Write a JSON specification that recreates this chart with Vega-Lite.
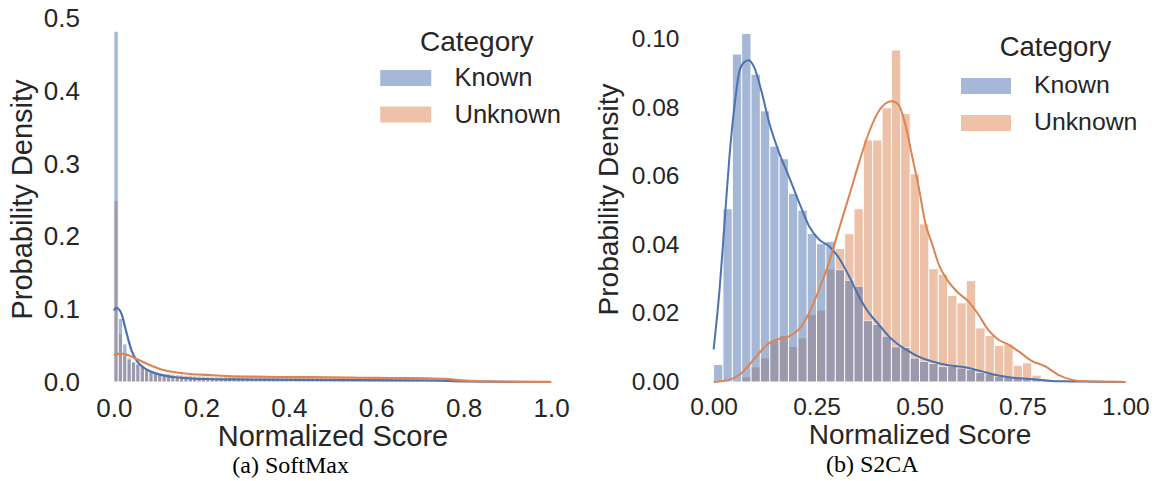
{
"$schema": "https://vega.github.io/schema/vega-lite/v6.json",
"background": "white",
"padding": {"left": 8, "top": 5, "right": 4, "bottom": 0},
"config": {
  "view": {"stroke": null},
  "font": "Liberation Sans",
  "axis": {"domain": false, "ticks": false, "tickSize": 0, "grid": false, "labelColor": "#262626", "titleColor": "#262626", "labelFont": "Liberation Sans", "titleFont": "Liberation Sans", "titleFontWeight": "normal"},
  "legend": {"titleFont": "Liberation Sans", "labelFont": "Liberation Sans", "titleFontWeight": "normal", "titleColor": "#262626", "labelColor": "#262626", "symbolOpacity": 0.5, "symbolStrokeWidth": 0, "titleAnchor": "middle"}
},
"datasets": {
  "leftBars": [
    {"category":"Unknown","x0":0.00,"x1":0.01,"p":0.25},
    {"category":"Unknown","x0":0.01,"x1":0.02,"p":0.0668},
    {"category":"Unknown","x0":0.02,"x1":0.03,"p":0.036},
    {"category":"Unknown","x0":0.03,"x1":0.04,"p":0.031},
    {"category":"Unknown","x0":0.04,"x1":0.05,"p":0.027},
    {"category":"Unknown","x0":0.05,"x1":0.06,"p":0.024},
    {"category":"Unknown","x0":0.06,"x1":0.07,"p":0.021},
    {"category":"Unknown","x0":0.07,"x1":0.08,"p":0.018},
    {"category":"Unknown","x0":0.08,"x1":0.09,"p":0.016},
    {"category":"Unknown","x0":0.09,"x1":0.10,"p":0.014},
    {"category":"Unknown","x0":0.10,"x1":0.11,"p":0.013},
    {"category":"Unknown","x0":0.11,"x1":0.12,"p":0.012},
    {"category":"Unknown","x0":0.12,"x1":0.13,"p":0.0115},
    {"category":"Unknown","x0":0.13,"x1":0.14,"p":0.011},
    {"category":"Unknown","x0":0.14,"x1":0.15,"p":0.0104},
    {"category":"Unknown","x0":0.15,"x1":0.16,"p":0.0101},
    {"category":"Unknown","x0":0.16,"x1":0.17,"p":0.0094},
    {"category":"Unknown","x0":0.17,"x1":0.18,"p":0.0091},
    {"category":"Unknown","x0":0.18,"x1":0.19,"p":0.0087},
    {"category":"Unknown","x0":0.19,"x1":0.20,"p":0.0086},
    {"category":"Unknown","x0":0.20,"x1":0.21,"p":0.0082},
    {"category":"Unknown","x0":0.21,"x1":0.22,"p":0.0081},
    {"category":"Unknown","x0":0.22,"x1":0.23,"p":0.0079},
    {"category":"Unknown","x0":0.23,"x1":0.24,"p":0.008},
    {"category":"Unknown","x0":0.24,"x1":0.25,"p":0.0077},
    {"category":"Unknown","x0":0.25,"x1":0.26,"p":0.0078},
    {"category":"Unknown","x0":0.26,"x1":0.27,"p":0.0075},
    {"category":"Unknown","x0":0.27,"x1":0.28,"p":0.0077},
    {"category":"Unknown","x0":0.28,"x1":0.29,"p":0.0074},
    {"category":"Unknown","x0":0.29,"x1":0.30,"p":0.0082},
    {"category":"Unknown","x0":0.30,"x1":0.31,"p":0.0073},
    {"category":"Unknown","x0":0.31,"x1":0.32,"p":0.0075},
    {"category":"Unknown","x0":0.32,"x1":0.33,"p":0.0072},
    {"category":"Unknown","x0":0.33,"x1":0.34,"p":0.0074},
    {"category":"Unknown","x0":0.34,"x1":0.35,"p":0.0071},
    {"category":"Unknown","x0":0.35,"x1":0.36,"p":0.0081},
    {"category":"Unknown","x0":0.36,"x1":0.37,"p":0.007},
    {"category":"Unknown","x0":0.37,"x1":0.38,"p":0.0072},
    {"category":"Unknown","x0":0.38,"x1":0.39,"p":0.0069},
    {"category":"Unknown","x0":0.39,"x1":0.40,"p":0.0071},
    {"category":"Unknown","x0":0.40,"x1":0.41,"p":0.0068},
    {"category":"Unknown","x0":0.41,"x1":0.42,"p":0.007},
    {"category":"Unknown","x0":0.42,"x1":0.43,"p":0.0067},
    {"category":"Unknown","x0":0.43,"x1":0.44,"p":0.0069},
    {"category":"Unknown","x0":0.44,"x1":0.45,"p":0.0068},
    {"category":"Unknown","x0":0.45,"x1":0.46,"p":0.0066},
    {"category":"Unknown","x0":0.46,"x1":0.47,"p":0.0068},
    {"category":"Unknown","x0":0.47,"x1":0.48,"p":0.0065},
    {"category":"Unknown","x0":0.48,"x1":0.49,"p":0.0067},
    {"category":"Unknown","x0":0.49,"x1":0.50,"p":0.0064},
    {"category":"Unknown","x0":0.50,"x1":0.51,"p":0.0066},
    {"category":"Unknown","x0":0.51,"x1":0.52,"p":0.0064},
    {"category":"Unknown","x0":0.52,"x1":0.53,"p":0.0063},
    {"category":"Unknown","x0":0.53,"x1":0.54,"p":0.0065},
    {"category":"Unknown","x0":0.54,"x1":0.55,"p":0.0062},
    {"category":"Unknown","x0":0.55,"x1":0.56,"p":0.0063},
    {"category":"Unknown","x0":0.56,"x1":0.57,"p":0.0061},
    {"category":"Unknown","x0":0.57,"x1":0.58,"p":0.0062},
    {"category":"Unknown","x0":0.58,"x1":0.59,"p":0.006},
    {"category":"Unknown","x0":0.59,"x1":0.60,"p":0.0061},
    {"category":"Unknown","x0":0.60,"x1":0.61,"p":0.0059},
    {"category":"Unknown","x0":0.61,"x1":0.62,"p":0.006},
    {"category":"Unknown","x0":0.62,"x1":0.63,"p":0.0058},
    {"category":"Unknown","x0":0.63,"x1":0.64,"p":0.0059},
    {"category":"Unknown","x0":0.64,"x1":0.65,"p":0.0057},
    {"category":"Unknown","x0":0.65,"x1":0.66,"p":0.0058},
    {"category":"Unknown","x0":0.66,"x1":0.67,"p":0.0056},
    {"category":"Unknown","x0":0.67,"x1":0.68,"p":0.0057},
    {"category":"Unknown","x0":0.68,"x1":0.69,"p":0.0055},
    {"category":"Unknown","x0":0.69,"x1":0.70,"p":0.0056},
    {"category":"Unknown","x0":0.70,"x1":0.71,"p":0.0054},
    {"category":"Unknown","x0":0.71,"x1":0.72,"p":0.0053},
    {"category":"Unknown","x0":0.72,"x1":0.73,"p":0.0052},
    {"category":"Unknown","x0":0.73,"x1":0.74,"p":0.0051},
    {"category":"Unknown","x0":0.74,"x1":0.75,"p":0.0049},
    {"category":"Unknown","x0":0.75,"x1":0.76,"p":0.0046},
    {"category":"Unknown","x0":0.76,"x1":0.77,"p":0.0042},
    {"category":"Unknown","x0":0.77,"x1":0.78,"p":0.0037},
    {"category":"Unknown","x0":0.78,"x1":0.79,"p":0.0031},
    {"category":"Unknown","x0":0.79,"x1":0.80,"p":0.0025},
    {"category":"Unknown","x0":0.80,"x1":0.81,"p":0.002},
    {"category":"Unknown","x0":0.81,"x1":0.82,"p":0.0015},
    {"category":"Unknown","x0":0.82,"x1":0.83,"p":0.0011},
    {"category":"Unknown","x0":0.83,"x1":0.84,"p":0.0008},
    {"category":"Unknown","x0":0.84,"x1":0.85,"p":0.0006},
    {"category":"Unknown","x0":0.85,"x1":0.86,"p":0.0005},
    {"category":"Unknown","x0":0.86,"x1":0.87,"p":0.0004},
    {"category":"Unknown","x0":0.87,"x1":0.88,"p":0.0004},
    {"category":"Unknown","x0":0.88,"x1":0.89,"p":0.0003},
    {"category":"Unknown","x0":0.89,"x1":0.90,"p":0.0003},
    {"category":"Unknown","x0":0.90,"x1":0.91,"p":0.0003},
    {"category":"Unknown","x0":0.91,"x1":0.92,"p":0.0002},
    {"category":"Unknown","x0":0.92,"x1":0.93,"p":0.0002},
    {"category":"Unknown","x0":0.93,"x1":0.94,"p":0.0002},
    {"category":"Unknown","x0":0.94,"x1":0.95,"p":0.0002},
    {"category":"Unknown","x0":0.95,"x1":0.96,"p":0.0001},
    {"category":"Unknown","x0":0.96,"x1":0.97,"p":0.0001},
    {"category":"Unknown","x0":0.97,"x1":0.98,"p":0.0001},
    {"category":"Unknown","x0":0.98,"x1":0.99,"p":0.0001},
    {"category":"Unknown","x0":0.99,"x1":1.00,"p":0.0001},
    {"category":"Known","x0":0.00,"x1":0.01,"p":0.483},
    {"category":"Known","x0":0.01,"x1":0.02,"p":0.0875},
    {"category":"Known","x0":0.02,"x1":0.03,"p":0.0525},
    {"category":"Known","x0":0.03,"x1":0.04,"p":0.033},
    {"category":"Known","x0":0.04,"x1":0.05,"p":0.028},
    {"category":"Known","x0":0.05,"x1":0.06,"p":0.025},
    {"category":"Known","x0":0.06,"x1":0.07,"p":0.021},
    {"category":"Known","x0":0.07,"x1":0.08,"p":0.017},
    {"category":"Known","x0":0.08,"x1":0.09,"p":0.014},
    {"category":"Known","x0":0.09,"x1":0.10,"p":0.012},
    {"category":"Known","x0":0.10,"x1":0.11,"p":0.01},
    {"category":"Known","x0":0.11,"x1":0.12,"p":0.009},
    {"category":"Known","x0":0.12,"x1":0.13,"p":0.008},
    {"category":"Known","x0":0.13,"x1":0.14,"p":0.0072},
    {"category":"Known","x0":0.14,"x1":0.15,"p":0.0066},
    {"category":"Known","x0":0.15,"x1":0.16,"p":0.006},
    {"category":"Known","x0":0.16,"x1":0.17,"p":0.0056},
    {"category":"Known","x0":0.17,"x1":0.18,"p":0.0052},
    {"category":"Known","x0":0.18,"x1":0.19,"p":0.0049},
    {"category":"Known","x0":0.19,"x1":0.20,"p":0.0046},
    {"category":"Known","x0":0.20,"x1":0.21,"p":0.0044},
    {"category":"Known","x0":0.21,"x1":0.22,"p":0.0042},
    {"category":"Known","x0":0.22,"x1":0.23,"p":0.0041},
    {"category":"Known","x0":0.23,"x1":0.24,"p":0.004},
    {"category":"Known","x0":0.24,"x1":0.25,"p":0.0038},
    {"category":"Known","x0":0.25,"x1":0.26,"p":0.0037},
    {"category":"Known","x0":0.26,"x1":0.27,"p":0.0036},
    {"category":"Known","x0":0.27,"x1":0.28,"p":0.0036},
    {"category":"Known","x0":0.28,"x1":0.29,"p":0.0035},
    {"category":"Known","x0":0.29,"x1":0.30,"p":0.0034},
    {"category":"Known","x0":0.30,"x1":0.31,"p":0.0034},
    {"category":"Known","x0":0.31,"x1":0.32,"p":0.0033},
    {"category":"Known","x0":0.32,"x1":0.33,"p":0.0033},
    {"category":"Known","x0":0.33,"x1":0.34,"p":0.0032},
    {"category":"Known","x0":0.34,"x1":0.35,"p":0.0032},
    {"category":"Known","x0":0.35,"x1":0.36,"p":0.0032},
    {"category":"Known","x0":0.36,"x1":0.37,"p":0.0031},
    {"category":"Known","x0":0.37,"x1":0.38,"p":0.0031},
    {"category":"Known","x0":0.38,"x1":0.39,"p":0.0031},
    {"category":"Known","x0":0.39,"x1":0.40,"p":0.003},
    {"category":"Known","x0":0.40,"x1":0.41,"p":0.003},
    {"category":"Known","x0":0.41,"x1":0.42,"p":0.003},
    {"category":"Known","x0":0.42,"x1":0.43,"p":0.003},
    {"category":"Known","x0":0.43,"x1":0.44,"p":0.0029},
    {"category":"Known","x0":0.44,"x1":0.45,"p":0.0029},
    {"category":"Known","x0":0.45,"x1":0.46,"p":0.0029},
    {"category":"Known","x0":0.46,"x1":0.47,"p":0.0029},
    {"category":"Known","x0":0.47,"x1":0.48,"p":0.0028},
    {"category":"Known","x0":0.48,"x1":0.49,"p":0.0028},
    {"category":"Known","x0":0.49,"x1":0.50,"p":0.0028},
    {"category":"Known","x0":0.50,"x1":0.51,"p":0.0028},
    {"category":"Known","x0":0.51,"x1":0.52,"p":0.0027},
    {"category":"Known","x0":0.52,"x1":0.53,"p":0.0027},
    {"category":"Known","x0":0.53,"x1":0.54,"p":0.0027},
    {"category":"Known","x0":0.54,"x1":0.55,"p":0.0027},
    {"category":"Known","x0":0.55,"x1":0.56,"p":0.0026},
    {"category":"Known","x0":0.56,"x1":0.57,"p":0.0026},
    {"category":"Known","x0":0.57,"x1":0.58,"p":0.0026},
    {"category":"Known","x0":0.58,"x1":0.59,"p":0.0026},
    {"category":"Known","x0":0.59,"x1":0.60,"p":0.0025},
    {"category":"Known","x0":0.60,"x1":0.61,"p":0.0025},
    {"category":"Known","x0":0.61,"x1":0.62,"p":0.0025},
    {"category":"Known","x0":0.62,"x1":0.63,"p":0.0025},
    {"category":"Known","x0":0.63,"x1":0.64,"p":0.0024},
    {"category":"Known","x0":0.64,"x1":0.65,"p":0.0024},
    {"category":"Known","x0":0.65,"x1":0.66,"p":0.0024},
    {"category":"Known","x0":0.66,"x1":0.67,"p":0.0024},
    {"category":"Known","x0":0.67,"x1":0.68,"p":0.0023},
    {"category":"Known","x0":0.68,"x1":0.69,"p":0.0023},
    {"category":"Known","x0":0.69,"x1":0.70,"p":0.0023},
    {"category":"Known","x0":0.70,"x1":0.71,"p":0.0023},
    {"category":"Known","x0":0.71,"x1":0.72,"p":0.0022},
    {"category":"Known","x0":0.72,"x1":0.73,"p":0.0022},
    {"category":"Known","x0":0.73,"x1":0.74,"p":0.0021},
    {"category":"Known","x0":0.74,"x1":0.75,"p":0.0021},
    {"category":"Known","x0":0.75,"x1":0.76,"p":0.002},
    {"category":"Known","x0":0.76,"x1":0.77,"p":0.0019},
    {"category":"Known","x0":0.77,"x1":0.78,"p":0.0018},
    {"category":"Known","x0":0.78,"x1":0.79,"p":0.0016},
    {"category":"Known","x0":0.79,"x1":0.80,"p":0.0014},
    {"category":"Known","x0":0.80,"x1":0.81,"p":0.0012},
    {"category":"Known","x0":0.81,"x1":0.82,"p":0.001},
    {"category":"Known","x0":0.82,"x1":0.83,"p":0.0008},
    {"category":"Known","x0":0.83,"x1":0.84,"p":0.0007},
    {"category":"Known","x0":0.84,"x1":0.85,"p":0.0006},
    {"category":"Known","x0":0.85,"x1":0.86,"p":0.0005},
    {"category":"Known","x0":0.86,"x1":0.87,"p":0.0004},
    {"category":"Known","x0":0.87,"x1":0.88,"p":0.0004},
    {"category":"Known","x0":0.88,"x1":0.89,"p":0.0003},
    {"category":"Known","x0":0.89,"x1":0.90,"p":0.0003},
    {"category":"Known","x0":0.90,"x1":0.91,"p":0.0003},
    {"category":"Known","x0":0.91,"x1":0.92,"p":0.0002},
    {"category":"Known","x0":0.92,"x1":0.93,"p":0.0002},
    {"category":"Known","x0":0.93,"x1":0.94,"p":0.0002},
    {"category":"Known","x0":0.94,"x1":0.95,"p":0.0002},
    {"category":"Known","x0":0.95,"x1":0.96,"p":0.0001},
    {"category":"Known","x0":0.96,"x1":0.97,"p":0.0001},
    {"category":"Known","x0":0.97,"x1":0.98,"p":0.0001},
    {"category":"Known","x0":0.98,"x1":0.99,"p":0.0001},
    {"category":"Known","x0":0.99,"x1":1.00,"p":0.0001}
  ],
  "leftKde": [
    {"category":"Known","x":0,"y":0.0985},{"category":"Known","x":0.005,"y":0.102},{"category":"Known","x":0.01,"y":0.101},{"category":"Known","x":0.018,"y":0.093},{"category":"Known","x":0.025,"y":0.077},{"category":"Known","x":0.033,"y":0.0585},{"category":"Known","x":0.041,"y":0.0424},{"category":"Known","x":0.052,"y":0.0295},{"category":"Known","x":0.067,"y":0.0203},{"category":"Known","x":0.083,"y":0.0147},{"category":"Known","x":0.105,"y":0.0101},{"category":"Known","x":0.136,"y":0.0069},{"category":"Known","x":0.174,"y":0.0051},{"category":"Known","x":0.213,"y":0.0041},{"category":"Known","x":0.274,"y":0.0036},{"category":"Known","x":0.35,"y":0.0032},{"category":"Known","x":0.45,"y":0.0028},{"category":"Known","x":0.55,"y":0.0025},{"category":"Known","x":0.65,"y":0.0023},{"category":"Known","x":0.72,"y":0.0021},{"category":"Known","x":0.76,"y":0.0016},{"category":"Known","x":0.8,"y":0.0009},{"category":"Known","x":0.85,"y":0.0004},{"category":"Known","x":0.9,"y":0.0002},{"category":"Known","x":1.0,"y":0.0},
    {"category":"Unknown","x":0,"y":0.0368},{"category":"Unknown","x":0.01,"y":0.0387},{"category":"Unknown","x":0.021,"y":0.0388},{"category":"Unknown","x":0.033,"y":0.0368},{"category":"Unknown","x":0.044,"y":0.034},{"category":"Unknown","x":0.06,"y":0.0295},{"category":"Unknown","x":0.083,"y":0.023},{"category":"Unknown","x":0.105,"y":0.018},{"category":"Unknown","x":0.136,"y":0.0138},{"category":"Unknown","x":0.174,"y":0.011},{"category":"Unknown","x":0.213,"y":0.0097},{"category":"Unknown","x":0.262,"y":0.0082},{"category":"Unknown","x":0.32,"y":0.0074},{"category":"Unknown","x":0.377,"y":0.0069},{"category":"Unknown","x":0.44,"y":0.0066},{"category":"Unknown","x":0.491,"y":0.0063},{"category":"Unknown","x":0.55,"y":0.0059},{"category":"Unknown","x":0.606,"y":0.0056},{"category":"Unknown","x":0.66,"y":0.0054},{"category":"Unknown","x":0.72,"y":0.005},{"category":"Unknown","x":0.758,"y":0.0042},{"category":"Unknown","x":0.796,"y":0.0023},{"category":"Unknown","x":0.834,"y":0.0012},{"category":"Unknown","x":0.873,"y":0.0006},{"category":"Unknown","x":0.92,"y":0.0003},{"category":"Unknown","x":1.0,"y":0.0001}
  ],
  "rightBars": [
    {"category":"Unknown","x0":0.0455,"x1":0.0682,"p":0.0003},
    {"category":"Unknown","x0":0.0682,"x1":0.0909,"p":0.0015},
    {"category":"Unknown","x0":0.0909,"x1":0.1136,"p":0.0044},
    {"category":"Unknown","x0":0.1136,"x1":0.1364,"p":0.007},
    {"category":"Unknown","x0":0.1364,"x1":0.1591,"p":0.0122},
    {"category":"Unknown","x0":0.1591,"x1":0.1818,"p":0.0136},
    {"category":"Unknown","x0":0.1818,"x1":0.2045,"p":0.0104},
    {"category":"Unknown","x0":0.2045,"x1":0.2273,"p":0.0129},
    {"category":"Unknown","x0":0.2273,"x1":0.25,"p":0.0198},
    {"category":"Unknown","x0":0.25,"x1":0.2727,"p":0.021},
    {"category":"Unknown","x0":0.2727,"x1":0.2955,"p":0.033},
    {"category":"Unknown","x0":0.2955,"x1":0.3182,"p":0.039},
    {"category":"Unknown","x0":0.3182,"x1":0.3409,"p":0.0433},
    {"category":"Unknown","x0":0.3409,"x1":0.3636,"p":0.0506},
    {"category":"Unknown","x0":0.3636,"x1":0.3864,"p":0.0707},
    {"category":"Unknown","x0":0.3864,"x1":0.4091,"p":0.0707},
    {"category":"Unknown","x0":0.4091,"x1":0.4318,"p":0.0801},
    {"category":"Unknown","x0":0.4318,"x1":0.4545,"p":0.097},
    {"category":"Unknown","x0":0.4545,"x1":0.4773,"p":0.0784},
    {"category":"Unknown","x0":0.4773,"x1":0.5,"p":0.0608},
    {"category":"Unknown","x0":0.5,"x1":0.5227,"p":0.0462},
    {"category":"Unknown","x0":0.5227,"x1":0.5455,"p":0.0331},
    {"category":"Unknown","x0":0.5455,"x1":0.5682,"p":0.0315},
    {"category":"Unknown","x0":0.5682,"x1":0.5909,"p":0.0253},
    {"category":"Unknown","x0":0.5909,"x1":0.6136,"p":0.0231},
    {"category":"Unknown","x0":0.6136,"x1":0.6364,"p":0.0296},
    {"category":"Unknown","x0":0.6364,"x1":0.6591,"p":0.0158},
    {"category":"Unknown","x0":0.6591,"x1":0.6818,"p":0.0136},
    {"category":"Unknown","x0":0.6818,"x1":0.7045,"p":0.0107},
    {"category":"Unknown","x0":0.7045,"x1":0.7273,"p":0.0111},
    {"category":"Unknown","x0":0.7273,"x1":0.75,"p":0.0049},
    {"category":"Unknown","x0":0.75,"x1":0.7727,"p":0.0056},
    {"category":"Unknown","x0":0.7727,"x1":0.7955,"p":0.002},
    {"category":"Unknown","x0":0.7955,"x1":0.8182,"p":0.001},
    {"category":"Unknown","x0":0.8182,"x1":0.8409,"p":0.0005},
    {"category":"Unknown","x0":0.8409,"x1":0.8636,"p":0.0003},
    {"category":"Unknown","x0":0.8636,"x1":0.8864,"p":0.0002},
    {"category":"Unknown","x0":0.8864,"x1":0.9091,"p":0.0001},
    {"category":"Unknown","x0":0.9091,"x1":0.9318,"p":0.0001},
    {"category":"Unknown","x0":0.9318,"x1":0.9545,"p":0.0001},
    {"category":"Unknown","x0":0.9545,"x1":0.9773,"p":0.0004},
    {"category":"Unknown","x0":0.9773,"x1":1.0,"p":0.0001},
    {"category":"Known","x0":0,"x1":0.0227,"p":0.0051},
    {"category":"Known","x0":0.0227,"x1":0.0455,"p":0.0506},
    {"category":"Known","x0":0.0455,"x1":0.0682,"p":0.0958},
    {"category":"Known","x0":0.0682,"x1":0.0909,"p":0.1018},
    {"category":"Known","x0":0.0909,"x1":0.1136,"p":0.0899},
    {"category":"Known","x0":0.1136,"x1":0.1364,"p":0.0792},
    {"category":"Known","x0":0.1364,"x1":0.1591,"p":0.0689},
    {"category":"Known","x0":0.1591,"x1":0.1818,"p":0.0652},
    {"category":"Known","x0":0.1818,"x1":0.2045,"p":0.0551},
    {"category":"Known","x0":0.2045,"x1":0.2273,"p":0.0502},
    {"category":"Known","x0":0.2273,"x1":0.25,"p":0.0434},
    {"category":"Known","x0":0.25,"x1":0.2727,"p":0.0404},
    {"category":"Known","x0":0.2727,"x1":0.2955,"p":0.0411},
    {"category":"Known","x0":0.2955,"x1":0.3182,"p":0.0328},
    {"category":"Known","x0":0.3182,"x1":0.3409,"p":0.0297},
    {"category":"Known","x0":0.3409,"x1":0.3636,"p":0.028},
    {"category":"Known","x0":0.3636,"x1":0.3864,"p":0.0179},
    {"category":"Known","x0":0.3864,"x1":0.4091,"p":0.0168},
    {"category":"Known","x0":0.4091,"x1":0.4318,"p":0.0134},
    {"category":"Known","x0":0.4318,"x1":0.4545,"p":0.0103},
    {"category":"Known","x0":0.4545,"x1":0.4773,"p":0.0101},
    {"category":"Known","x0":0.4773,"x1":0.5,"p":0.007},
    {"category":"Known","x0":0.5,"x1":0.5227,"p":0.006},
    {"category":"Known","x0":0.5227,"x1":0.5455,"p":0.0054},
    {"category":"Known","x0":0.5455,"x1":0.5682,"p":0.0045},
    {"category":"Known","x0":0.5682,"x1":0.5909,"p":0.0046},
    {"category":"Known","x0":0.5909,"x1":0.6136,"p":0.0041},
    {"category":"Known","x0":0.6136,"x1":0.6364,"p":0.0036},
    {"category":"Known","x0":0.6364,"x1":0.6591,"p":0.0028},
    {"category":"Known","x0":0.6591,"x1":0.6818,"p":0.0024},
    {"category":"Known","x0":0.6818,"x1":0.7045,"p":0.0017},
    {"category":"Known","x0":0.7045,"x1":0.7273,"p":0.0014},
    {"category":"Known","x0":0.7273,"x1":0.75,"p":0.0012},
    {"category":"Known","x0":0.75,"x1":0.7727,"p":0.0012},
    {"category":"Known","x0":0.7727,"x1":0.7955,"p":0.0009},
    {"category":"Known","x0":0.7955,"x1":0.8182,"p":0.0007},
    {"category":"Known","x0":0.8182,"x1":0.8409,"p":0.0005},
    {"category":"Known","x0":0.8409,"x1":0.8636,"p":0.0003},
    {"category":"Known","x0":0.8636,"x1":0.8864,"p":0.0002},
    {"category":"Known","x0":0.8864,"x1":0.9091,"p":0.0001},
    {"category":"Known","x0":0.9091,"x1":0.9318,"p":0.0001},
    {"category":"Known","x0":0.9318,"x1":0.9545,"p":0.0001}
  ],
  "rightKde": [
    {"category":"Known","x":0,"y":0.0095},{"category":"Known","x":0.0145,"y":0.027},{"category":"Known","x":0.0266,"y":0.0465},{"category":"Known","x":0.0386,"y":0.066},{"category":"Known","x":0.0507,"y":0.0806},{"category":"Known","x":0.0628,"y":0.0908},{"category":"Known","x":0.0749,"y":0.0935},{"category":"Known","x":0.0853,"y":0.094},{"category":"Known","x":0.099,"y":0.0918},{"category":"Known","x":0.115,"y":0.0855},{"category":"Known","x":0.135,"y":0.0757},{"category":"Known","x":0.159,"y":0.067},{"category":"Known","x":0.183,"y":0.06},{"category":"Known","x":0.208,"y":0.0523},{"category":"Known","x":0.232,"y":0.0455},{"category":"Known","x":0.256,"y":0.0416},{"category":"Known","x":0.28,"y":0.0397},{"category":"Known","x":0.304,"y":0.0363},{"category":"Known","x":0.329,"y":0.0309},{"category":"Known","x":0.353,"y":0.025},{"category":"Known","x":0.377,"y":0.0202},{"category":"Known","x":0.401,"y":0.0168},{"category":"Known","x":0.425,"y":0.0134},{"category":"Known","x":0.449,"y":0.0109},{"category":"Known","x":0.474,"y":0.009},{"category":"Known","x":0.498,"y":0.0074},{"category":"Known","x":0.531,"y":0.006},{"category":"Known","x":0.57,"y":0.0049},{"category":"Known","x":0.611,"y":0.0043},{"category":"Known","x":0.651,"y":0.0031},{"category":"Known","x":0.691,"y":0.0019},{"category":"Known","x":0.732,"y":0.0012},{"category":"Known","x":0.772,"y":0.0009},{"category":"Known","x":0.812,"y":0.0004},{"category":"Known","x":0.852,"y":0.0002},{"category":"Known","x":0.933,"y":0.0001},{"category":"Known","x":1.0,"y":0.0},
    {"category":"Unknown","x":0,"y":0},{"category":"Unknown","x":0.039,"y":0.0007},{"category":"Unknown","x":0.063,"y":0.0021},{"category":"Unknown","x":0.087,"y":0.0051},{"category":"Unknown","x":0.111,"y":0.0085},{"category":"Unknown","x":0.135,"y":0.0114},{"category":"Unknown","x":0.159,"y":0.0126},{"category":"Unknown","x":0.184,"y":0.0134},{"category":"Unknown","x":0.208,"y":0.0155},{"category":"Unknown","x":0.232,"y":0.0202},{"category":"Unknown","x":0.256,"y":0.027},{"category":"Unknown","x":0.28,"y":0.0348},{"category":"Unknown","x":0.304,"y":0.0445},{"category":"Unknown","x":0.329,"y":0.0543},{"category":"Unknown","x":0.353,"y":0.064},{"category":"Unknown","x":0.377,"y":0.0728},{"category":"Unknown","x":0.401,"y":0.0791},{"category":"Unknown","x":0.421,"y":0.0816},{"category":"Unknown","x":0.433,"y":0.082},{"category":"Unknown","x":0.449,"y":0.081},{"category":"Unknown","x":0.465,"y":0.0755},{"category":"Unknown","x":0.482,"y":0.066},{"category":"Unknown","x":0.498,"y":0.057},{"category":"Unknown","x":0.514,"y":0.0465},{"category":"Unknown","x":0.531,"y":0.0402},{"category":"Unknown","x":0.547,"y":0.0343},{"category":"Unknown","x":0.567,"y":0.0299},{"category":"Unknown","x":0.59,"y":0.0265},{"category":"Unknown","x":0.618,"y":0.0236},{"category":"Unknown","x":0.643,"y":0.0197},{"category":"Unknown","x":0.667,"y":0.0152},{"category":"Unknown","x":0.691,"y":0.0124},{"category":"Unknown","x":0.716,"y":0.0109},{"category":"Unknown","x":0.74,"y":0.009},{"category":"Unknown","x":0.772,"y":0.0062},{"category":"Unknown","x":0.805,"y":0.0046},{"category":"Unknown","x":0.837,"y":0.0021},{"category":"Unknown","x":0.869,"y":0.0007},{"category":"Unknown","x":0.902,"y":0.0002},{"category":"Unknown","x":0.95,"y":0.0001},{"category":"Unknown","x":1.0,"y":0.0}
  ]
},
"bounds": "flush",
"spacing": 120,
"resolve": {"scale": {"x": "independent", "y": "independent", "fill": "independent", "stroke": "independent"}, "legend": {"fill": "independent"}},
"hconcat": [
  {
    "width": 481, "height": 366,
    "title": {"text": "(a) SoftMax", "orient": "bottom", "anchor": "middle", "frame": "bounds", "font": "Liberation Serif", "fontSize": 24, "fontWeight": "normal", "color": "#000000", "offset": 2.2},
    "layer": [
      {"data": {"name": "leftBars"},
       "mark": {"type": "bar", "opacity": 0.5, "stroke": "white", "strokeWidth": 1},
       "encoding": {
         "x": {"field": "x0", "type": "quantitative", "scale": {"domain": [-0.05, 1.05], "nice": false, "zero": false}, "axis": {"values": [0, 0.2, 0.4, 0.6, 0.8, 1.0], "format": ".1f", "labelFontSize": 26, "titleFontSize": 29, "labelPadding": 13, "titlePadding": 1.5}, "title": "Normalized Score"},
         "x2": {"field": "x1"},
         "y": {"field": "p", "type": "quantitative", "stack": null, "scale": {"domain": [0, 0.504], "nice": false}, "axis": {"values": [0, 0.1, 0.2, 0.3, 0.4, 0.5], "format": ".1f", "labelFontSize": 26, "titleFontSize": 29, "labelPadding": 12.6, "titlePadding": 6}, "title": "Probability Density"},
         "y2": {"datum": 0},
         "fill": {"field": "category", "type": "nominal", "scale": {"domain": ["Known", "Unknown"], "range": ["#4C72B0", "#DD8452"]},
           "legend": {"title": "Category", "orient": "none", "legendX": 300.75, "legendY": 13, "titleFontSize": 28, "labelFontSize": 25.5, "symbolType": "M-2,-0.62H2V0.62H-2Z", "symbolSize": 650, "labelOffset": 35.75, "rowPadding": 9.5, "titlePadding": 8}}
       }},
      {"data": {"name": "leftKde"},
       "mark": {"type": "line", "strokeWidth": 2.2, "interpolate": "monotone"},
       "encoding": {
         "x": {"field": "x", "type": "quantitative", "title": "Normalized Score"},
         "y": {"field": "y", "type": "quantitative", "title": "Probability Density"},
         "stroke": {"field": "category", "type": "nominal", "scale": {"domain": ["Known", "Unknown"], "range": ["#4C72B0", "#DD8452"]}, "legend": null}
       }}
    ]
  },
  {
    "width": 453, "height": 366,
    "title": {"text": "(b) S2CA", "orient": "bottom", "anchor": "middle", "frame": "bounds", "font": "Liberation Serif", "fontSize": 24, "fontWeight": "normal", "color": "#000000", "offset": 2.7},
    "layer": [
      {"data": {"name": "rightBars"},
       "mark": {"type": "bar", "opacity": 0.5, "stroke": "white", "strokeWidth": 1},
       "encoding": {
         "x": {"field": "x0", "type": "quantitative", "scale": {"domain": [-0.05, 1.05], "nice": false, "zero": false}, "axis": {"values": [0, 0.25, 0.5, 0.75, 1.0], "format": ".2f", "labelFontSize": 24.5, "titleFontSize": 28, "labelPadding": 13.4, "titlePadding": 3}, "title": "Normalized Score"},
         "x2": {"field": "x1"},
         "y": {"field": "p", "type": "quantitative", "stack": null, "scale": {"domain": [0, 0.1069], "nice": false}, "axis": {"values": [0, 0.02, 0.04, 0.06, 0.08, 0.1], "format": ".2f", "labelFontSize": 24.5, "titleFontSize": 28, "labelPadding": 14, "titlePadding": 8}, "title": "Probability Density"},
         "y2": {"datum": 0},
         "fill": {"field": "category", "type": "nominal", "scale": {"domain": ["Known", "Unknown"], "range": ["#4C72B0", "#DD8452"]},
           "legend": {"title": "Category", "orient": "none", "legendX": 280.5, "legendY": 18, "titleFontSize": 27.5, "labelFontSize": 24.8, "symbolType": "M-2,-0.64H2V0.64H-2Z", "symbolSize": 625, "labelOffset": 35.5, "rowPadding": 11, "titlePadding": 12}}
       }},
      {"data": {"name": "rightKde"},
       "mark": {"type": "line", "strokeWidth": 2, "interpolate": "monotone"},
       "encoding": {
         "x": {"field": "x", "type": "quantitative", "title": "Normalized Score"},
         "y": {"field": "y", "type": "quantitative", "title": "Probability Density"},
         "stroke": {"field": "category", "type": "nominal", "scale": {"domain": ["Known", "Unknown"], "range": ["#4C72B0", "#DD8452"]}, "legend": null}
       }}
    ]
  }
]
}
